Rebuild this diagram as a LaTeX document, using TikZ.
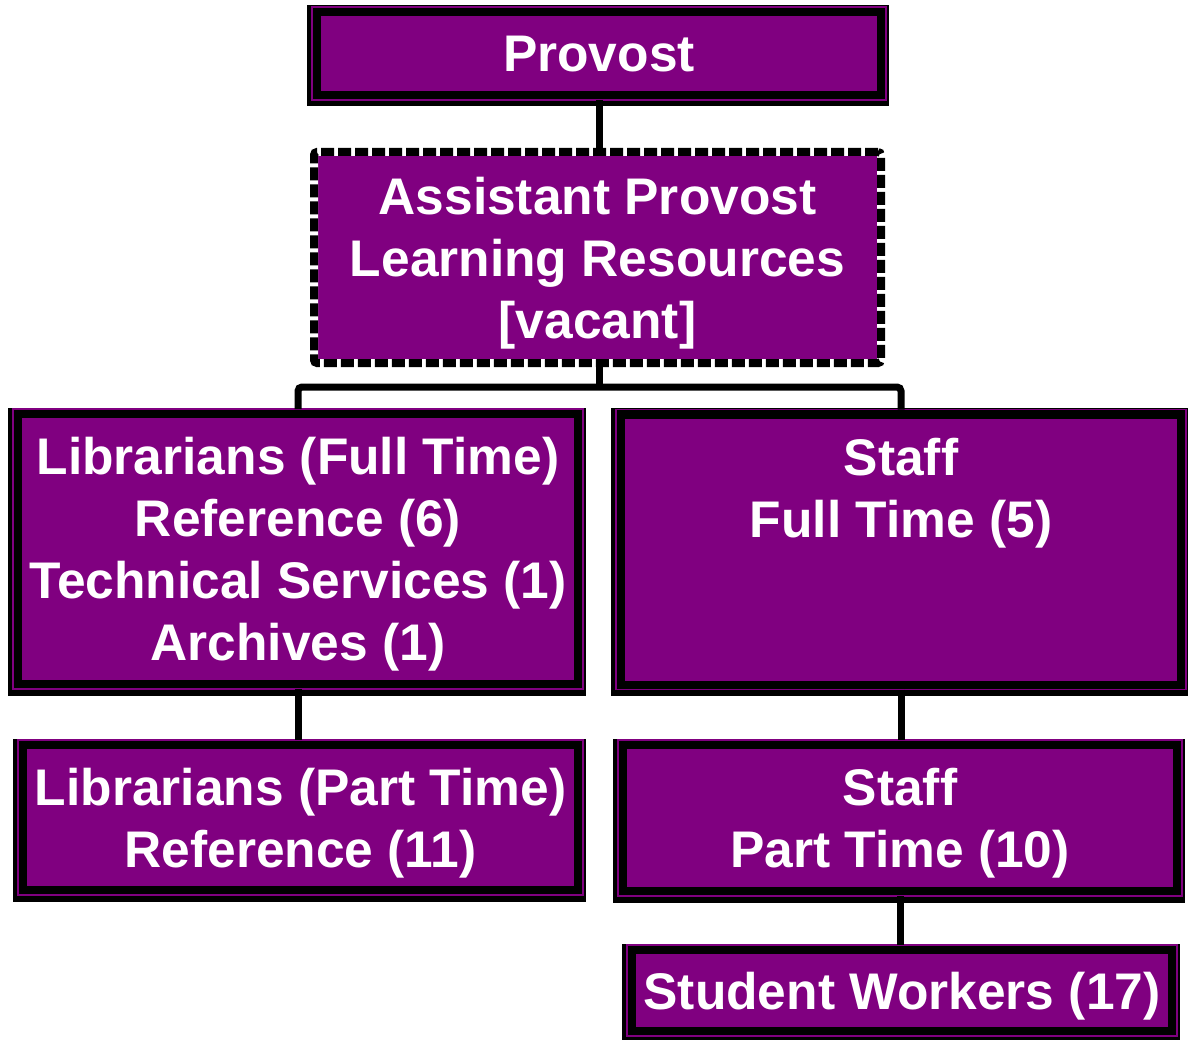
\documentclass[tikz,border=0pt]{standalone}
\usepackage{fontspec}
\setmainfont{Liberation Sans}
\usepackage{xcolor}
\usepackage{tikz}
\usetikzlibrary{positioning, calc}
\definecolor{boxpurple}{rgb}{0.5, 0, 0.5}

\tikzset{
	orgbox/.style={rectangle, inner sep=0pt, outer sep=0pt, fill=black, draw=boxpurple, line width=1.5pt,
		preaction={draw=black, fill=black, line width=8pt, transform canvas={xshift=-1.5pt, yshift=-2.5pt}},
		path picture={\fill[boxpurple] ([shift={(9pt,9pt)}]path picture bounding box.south west) rectangle ([shift={(-9pt,-9pt)}]path picture bounding box.north east);},
		text=white, font=\bfseries\fontsize{51.5}{62}\selectfont, align=center, text depth=0pt},
	vacantbox/.style={rectangle, inner sep=0pt, outer sep=0pt, rounded corners=3pt,
		preaction={fill=boxpurple}, preaction={draw=white, solid, line width=8pt},
		draw=black, line width=8pt, dash pattern=on 13pt off 4pt,
		text=white, font=\bfseries\fontsize{51.5}{62}\selectfont, align=center, text depth=0pt},
	conn/.style={draw=black, line width=7pt}
}

\begin{document}
\begin{tikzpicture}[x=1pt, y=-1pt]
						\useasboundingbox (0,0) rectangle (1188,1040);
						
						\node[orgbox, minimum width=574pt, minimum height=93pt] (prov) at (599,53.5) {Provost};
						\node[vacantbox, minimum width=567pt, minimum height=211pt] (asst) at (597.5,257.5) {Assistant Provost\\Learning Resources\\{[vacant]}};
						
						\node[orgbox, minimum width=570pt, minimum height=280pt] (libft) at (298,549) {Librarians (Full Time)\\Reference (6)\\Technical Services (1)\\Archives (1)};
						\node[orgbox, minimum width=570pt, minimum height=280pt] (staffft) at (901,549.5) {Staff\\Full Time (5)\\~\\~};
						
						\node[orgbox, minimum width=565pt, minimum height=155pt] (libpt) at (300.5,817.5) {Librarians (Part Time)\\Reference (11)};
						\node[orgbox, minimum width=564pt, minimum height=156pt] (staffpt) at (900,818) {Staff\\Part Time (10)};
						\node[orgbox, minimum width=550pt, minimum height=91pt] (student) at (902,990.5) {Student Workers (17)};
						
						\coordinate (branch) at ($(asst.south)+(1.5,24)$);
						\draw[conn] (prov.south) -- (prov.south |- asst.north);
						\draw[conn] (asst.south -| branch) -- (branch);
						\draw[conn, rounded corners=4pt] (libft.north) |- (branch) -| (staffft.north);
						\draw[conn] (libft.south) -- (libft.south |- libpt.north);
						\draw[conn] (staffft.south) -- (staffft.south |- staffpt.north);
						\draw[conn] (staffpt.south) -- (staffpt.south |- student.north);
\end{tikzpicture}
\end{document}
